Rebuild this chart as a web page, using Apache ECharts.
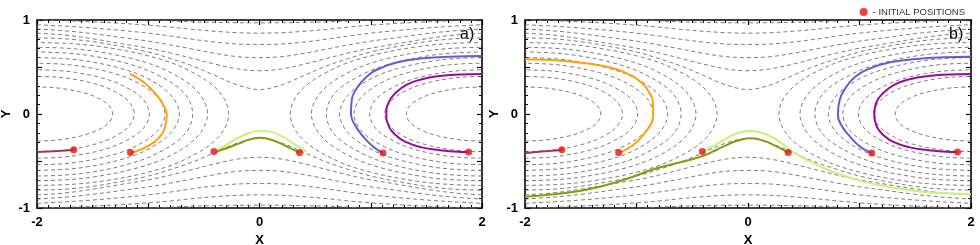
<!DOCTYPE html>
<html><head><meta charset="utf-8">
<script src="https://cdn.jsdelivr.net/npm/echarts@6/dist/echarts.min.js"></script>
<style>html,body{margin:0;padding:0;background:#fff}#c{width:980px;height:245px}</style>
</head><body><div id="c"></div>
<script>
// ---------- data ----------
const xTickLabels = [-2, 0, 2];
const yTickLabels = [-1, 0, 1];
const panelTags = ['a)', 'b)'];
const legendText = '- INITIAL POSITIONS';

// closed contours around (-2,0): upper-left quadrant, from turning point to left edge
const closedC1 = [[-1.32,0],[-1.36,0.10],[-1.48,0.185],[-1.61,0.235],[-1.77,0.27],[-1.88,0.283],[-2,0.287]];
const closedC2 = [[-1.125,0],[-1.18,0.137],[-1.33,0.257],[-1.50,0.328],[-1.70,0.376],[-1.85,0.394],[-2,0.40]];
const closedC3 = [[-0.99,0],[-1.05,0.161],[-1.23,0.302],[-1.42,0.385],[-1.655,0.442],[-1.82,0.463],[-2,0.47]];
const closedC4 = [[-0.85,0],[-0.92,0.185],[-1.12,0.347],[-1.34,0.442],[-1.61,0.508],[-1.80,0.532],[-2,0.54]];
const closedC5 = [[-0.72,0],[-0.80,0.205],[-1.02,0.386],[-1.265,0.491],[-1.56,0.564],[-1.78,0.591],[-2,0.60]];
const closedC6 = [[-0.60,0],[-0.68,0.226],[-0.93,0.424],[-1.20,0.541],[-1.52,0.62],[-1.76,0.65],[-2,0.66]];
const closedC7 = [[-0.466,0],[-0.56,0.243],[-0.825,0.457],[-1.12,0.581],[-1.475,0.667],[-1.73,0.699],[-2,0.71]];
const closedC8 = [[-0.277,0],[-0.38,0.26],[-0.68,0.489],[-1.01,0.622],[-1.41,0.714],[-1.70,0.749],[-2,0.76]];

// open contours above the saddle: y at openX (left half)
const openX  = [-2,-1.75,-1.5,-1.25,-1,-0.8,-0.6,-0.4,-0.2,0];
const openO1 = [0.81,0.80,0.77,0.72,0.66,0.59,0.51,0.41,0.31,0.26];
const openO2 = [0.86,0.84,0.80,0.75,0.70,0.65,0.59,0.53,0.48,0.46];
const openO3 = [0.905,0.885,0.855,0.815,0.775,0.735,0.69,0.645,0.61,0.60];
const openO4 = [0.95,0.935,0.915,0.89,0.86,0.83,0.795,0.765,0.745,0.74];
const openO5 = [1.0,0.993,0.98,0.965,0.945,0.925,0.90,0.88,0.865,0.86];
const openO6 = [1.05,1.045,1.035,1.02,1.005,0.99,0.98,0.975,0.971,0.97];

// initial positions
const initialPositions = [[-1.67,-0.38],[-1.16,-0.41],[-0.41,-0.40],[0.36,-0.41],[1.11,-0.415],[1.88,-0.405]];

// trajectories, panel a
const aMaroon = [[-1.67,-0.383],[-1.85,-0.395],[-2,-0.405]];
const aOrange = [[-1.16,-0.41],[-1.119,-0.401],[-1.014,-0.348],[-0.91,-0.259],[-0.849,-0.135],[-0.834,-0.01],[-0.856,0.078],[-0.924,0.202],[-1.045,0.344],[-1.164,0.426]];
const aOlive  = [[0.36,-0.41],[0.28,-0.365],[0.184,-0.31],[0.09,-0.268],[0.004,-0.252],[-0.09,-0.272],[-0.19,-0.315],[-0.29,-0.362],[-0.385,-0.40]];
const aLight  = [[-0.39,-0.39],[-0.3,-0.33],[-0.2,-0.26],[-0.1,-0.205],[0.0,-0.177],[0.1,-0.19],[0.2,-0.235],[0.3,-0.31],[0.424,-0.40]];
const aBlue   = [[1.11,-0.415],[1.023,-0.348],[0.933,-0.241],[0.858,-0.117],[0.822,0.007],[0.829,0.149],[0.874,0.273],[0.963,0.397],[1.083,0.486],[1.263,0.556],[1.472,0.592],[1.712,0.61],[2,0.617]];
const aPurple = [[1.88,-0.405],[1.75,-0.398],[1.62,-0.385],[1.46,-0.355],[1.32,-0.30],[1.22,-0.22],[1.16,-0.12],[1.14,0.0],[1.16,0.12],[1.22,0.22],[1.32,0.31],[1.46,0.37],[1.62,0.405],[1.8,0.42],[2,0.426]];

// trajectories, panel b
const bMaroon = [[-1.67,-0.383],[-1.85,-0.40],[-2,-0.418]];
const bOrange = [[-1.16,-0.41],[-1.10,-0.383],[-0.996,-0.295],[-0.906,-0.17],[-0.852,-0.029],[-0.852,0.114],[-0.891,0.237],[-0.966,0.344],[-1.085,0.433],[-1.265,0.503],[-1.504,0.546],[-1.773,0.574],[-2,0.582]];
const bOlive  = [[0.36,-0.41],[0.2,-0.312],[0.1,-0.27],[0.021,-0.259],[-0.072,-0.277],[-0.159,-0.312],[-0.28,-0.38],[-0.424,-0.454],[-0.819,-0.578],[-1.118,-0.702],[-1.417,-0.798],[-1.716,-0.851],[-2,-0.88]];
const bLight  = [[-0.41,-0.40],[-0.3,-0.33],[-0.2,-0.265],[-0.1,-0.205],[0.02,-0.18],[0.12,-0.2],[0.22,-0.25],[0.3,-0.31],[0.38,-0.385],[0.588,-0.525],[0.888,-0.667],[1.187,-0.759],[1.485,-0.816],[1.785,-0.844],[2,-0.854]];
const bBlue   = [[1.11,-0.415],[1.007,-0.348],[0.902,-0.223],[0.828,-0.099],[0.807,0.007],[0.822,0.149],[0.873,0.273],[0.962,0.397],[1.097,0.486],[1.276,0.55],[1.515,0.585],[1.754,0.603],[2,0.61]];
const bPurple = [[1.88,-0.405],[1.75,-0.398],[1.62,-0.385],[1.45,-0.355],[1.31,-0.30],[1.21,-0.22],[1.15,-0.12],[1.133,0.0],[1.15,0.12],[1.21,0.22],[1.31,0.31],[1.45,0.37],[1.62,0.405],[1.8,0.42],[2,0.426]];

// ---------- build ----------
const closedContours = [closedC1,closedC2,closedC3,closedC4,closedC5,closedC6,closedC7,closedC8];
const openContours = [openO1,openO2,openO3,openO4,openO5,openO6];
const trajColors = {maroon:'#a33a4c', orange:'#ffa20a', olive:'#8a9a08', light:'#c4f27a', blue:'#5f5fd6', purple:'#9a0a9a'};
const panels = [
  {maroon:aMaroon, orange:aOrange, olive:aOlive, light:aLight, blue:aBlue, purple:aPurple},
  {maroon:bMaroon, orange:bOrange, olive:bOlive, light:bLight, blue:bBlue, purple:bPurple}
];
const grids = [
  {left:37, top:20, width:445, height:188},
  {left:525, top:20, width:446, height:188}
];

function closedFull(q, sx){
  const lower = q.slice().reverse().map(p => [sx*p[0], -p[1]]);
  const upper = q.slice(1).map(p => [sx*p[0], p[1]]);
  return lower.concat(upper);
}
function openFull(ys, sy){
  const left = openX.map((x,i) => [x, sy*ys[i]]);
  const right = left.slice(0,-1).reverse().map(p => [-p[0], p[1]]);
  return left.concat(right);
}

const font = 'Liberation Sans, Arial, Helvetica, sans-serif';
const xAxes = [], yAxes = [], series = [];
grids.forEach((g, p) => {
  const tickStyle = {show:true, inside:true, length:5, lineStyle:{color:'#000', width:1.2}};
  const minor = {show:true, splitNumber:10, length:3, lineStyle:{color:'#000', width:1}};
  const line = {show:true, onZero:false, lineStyle:{color:'#000', width:1.6}};
  xAxes.push({gridIndex:p, type:'value', min:-2, max:2, interval:1, position:'bottom',
    axisLine:line, axisTick:tickStyle, minorTick:minor, splitLine:{show:false},
    axisLabel:{show:true, margin:8, showMinLabel:true, showMaxLabel:true,
      formatter:v => xTickLabels.includes(v) ? String(v) : '', fontFamily:font, fontWeight:'bold', fontSize:13, color:'#000'},
    name:'X', nameLocation:'middle', nameGap:26, nameTextStyle:{fontFamily:font, fontWeight:'bold', fontSize:13, color:'#000'}});
  xAxes.push({gridIndex:p, type:'value', min:-2, max:2, interval:1, position:'top',
    axisLine:line, axisTick:tickStyle, minorTick:minor, splitLine:{show:false}, axisLabel:{show:false}});
  yAxes.push({gridIndex:p, type:'value', min:-1, max:1, interval:0.5, position:'left',
    axisLine:line, axisTick:tickStyle, minorTick:Object.assign({}, minor, {splitNumber:5}), splitLine:{show:false},
    axisLabel:{show:true, margin:7, showMinLabel:true, showMaxLabel:true,
      formatter:v => yTickLabels.includes(v) ? String(v) : '', fontFamily:font, fontWeight:'bold', fontSize:13, color:'#000'},
    name:'Y', nameLocation:'middle', nameGap:24, nameRotate:90, nameTextStyle:{fontFamily:font, fontWeight:'bold', fontSize:13, color:'#000'}});
  yAxes.push({gridIndex:p, type:'value', min:-1, max:1, interval:0.5, position:'right',
    axisLine:line, axisTick:tickStyle, minorTick:Object.assign({}, minor, {splitNumber:5}), splitLine:{show:false}, axisLabel:{show:false}});

  const xi = p*2, yi = p*2;
  const dashStyle = {color:'#6e6e6e', width:0.9, type:[4,3]};
  closedContours.forEach(q => {
    [-1, 1].forEach(sx => {
      series.push({type:'line', xAxisIndex:xi, yAxisIndex:yi, data:closedFull(q, sx), showSymbol:false, symbol:'none',
        smooth:0.35, silent:true, lineStyle:dashStyle, z:1, clip:true});
    });
  });
  openContours.forEach(ys => {
    [-1, 1].forEach(sy => {
      series.push({type:'line', xAxisIndex:xi, yAxisIndex:yi, data:openFull(ys, sy), showSymbol:false, symbol:'none',
        smooth:0.35, silent:true, lineStyle:dashStyle, z:1, clip:true});
    });
  });
  const tr = panels[p];
  ['maroon','orange','light','olive','blue','purple'].forEach(k => {
    series.push({type:'line', xAxisIndex:xi, yAxisIndex:yi, data:tr[k], showSymbol:false, symbol:'none',
      smooth:0.5, silent:true, lineStyle:{color:trajColors[k], width:2}, z:3, clip:true});
  });
  series.push({type:'scatter', name:legendText, xAxisIndex:xi, yAxisIndex:yi, data:initialPositions,
    symbol:'circle', symbolSize:7, itemStyle:{color:'#ee1010'}, z:5, silent:true});
});

const chart = echarts.init(document.getElementById('c'), null, {renderer:'canvas'});
chart.setOption({
  animation:false,
  backgroundColor:'#fff',
  grid: grids.map(g => Object.assign({outerBoundsMode:'none', containLabel:false}, g)),
  xAxis: xAxes,
  yAxis: yAxes,
  legend:{data:[legendText], right:10, top:2, itemWidth:8, itemHeight:8, itemGap:4,
    textStyle:{fontFamily:font, fontSize:9.5, color:'#333'}, icon:'circle'},
  graphic: panelTags.map((t, p) => ({type:'text', left:grids[p].left + grids[p].width - 22, top:27,
    style:{text:t, font:'16px ' + font, fill:'#000'}})),
  series: series
});
</script>
</body></html>
